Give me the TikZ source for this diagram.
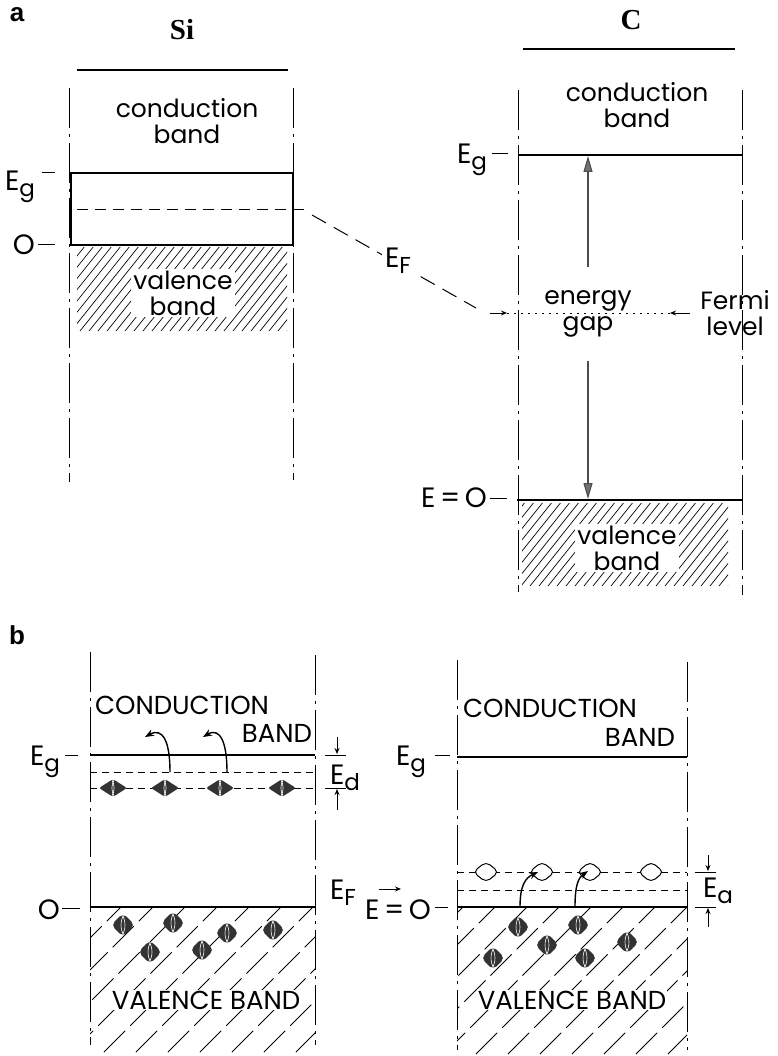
\documentclass[tikz,border=0pt]{standalone}
\usepackage{fontspec}
\setmainfont{Poppins}
\newfontfamily\serifb{Liberation Serif}
\newfontfamily\sansb{Liberation Sans}
\usetikzlibrary{shapes.geometric,arrows.meta}
\begin{document}
\begin{tikzpicture}[x=1pt,y=-1pt,
  lvl/.style={line width=1.2pt},
  ddline/.style={line width=1pt, dash pattern=on 40pt off 6pt on 3pt off 6pt},
  dlvl/.style={line width=0.9pt, dash pattern=on 7pt off 5pt},
  sidash/.style={line width=1pt, dash pattern=on 11pt off 7pt},
  efline/.style={line width=1pt, dash pattern=on 16pt off 9pt},
  hatchf/.style={line width=0.7pt},
  hatchb/.style={line width=0.8pt, dash pattern=on 30pt off 7pt},
  lc/.style={font=\fontsize{25}{28}\selectfont, align=center, inner sep=1pt},
  uc/.style={font=\fontsize{26}{28}\selectfont, inner sep=1pt},
  sym/.style={font=\fontsize{28}{28}\selectfont, inner sep=0pt},
  tick/.style={line width=1pt},
  garrow/.style={line width=1.1pt, draw=black!70, -{Triangle[length=16pt,width=9pt,fill=black!55]}},
  sarrow/.style={line width=0.9pt, -{Stealth[length=6pt,width=5pt]}},
  carrow/.style={line width=1.4pt, -{Stealth[length=9pt,width=7pt]}},
  streak/.style={path picture={
     \draw[white,line width=0.6pt] ([xshift=-1.5pt]path picture bounding box.north) to[bend left=30] ([xshift=-1.5pt]path picture bounding box.south);
     \draw[white,line width=0.6pt] ([xshift=1.5pt]path picture bounding box.north) to[bend right=30] ([xshift=1.5pt]path picture bounding box.south);}},
  donor/.style={diamond, fill=black!80, minimum width=28pt, minimum height=18pt, inner sep=0pt, rounded corners=2pt, streak},
  elec/.style={diamond, fill=black!80, minimum width=24pt, minimum height=24pt, inner sep=0pt, rounded corners=5pt, streak},
  hole/.style={diamond, draw, line width=1pt, fill=white, minimum width=26pt, minimum height=21pt, inner sep=0pt, rounded corners=5pt},
]
\useasboundingbox (0,0) rectangle (777,1056);
\newcommand{\sub}[1]{\raisebox{-6pt}{\fontsize{23}{23}\selectfont #1}}

% ---------- panel a ----------
\node[font=\sansb\bfseries\fontsize{26}{26}\selectfont] (la) at (17,15) {a};
\node[font=\serifb\bfseries\fontsize{29}{29}\selectfont] (si) at (182,30) {Si};
\node[font=\serifb\bfseries\fontsize{29}{29}\selectfont] (cc) at (631,20) {C};

% Si
\draw[lvl] (77,70) -- (288,70);
\draw[ddline] (69,88) -- (69,482);
\draw[ddline] (293,88) -- (293,480);
\begin{scope}
  \clip (77,248) rectangle (287,331);
  \foreach \x in {-10,-1,...,290} \draw[hatchf] (\x,331) -- ++(80,-100);
\end{scope}
\draw[lvl] (71,245) -- (71,173) -- (293,173) -- (293,245) -- cycle;
\draw[sidash] (77,210) -- (306,210);
\node[lc] (cbsi) at (187,121) {conduction\\[-2pt]band};
\node[lc, fill=white, inner sep=2pt] (vbsi) at (183,293) {valence\\[-2pt]band};
\node[sym] (egsi) at (20,187) {E\sub{g}};
\draw[tick] (42,173) -- (55,173);
\node[sym] (osi) at (24,245) {O};
\draw[tick] (38,245) -- (55,245);

% E_F connector
\coordinate (efa) at (312,215);
\coordinate (efb) at (476,308);
\draw[efline] (efa) -- (efb);
\node[sym, fill=white, inner sep=3pt] (ef) at (398,261) {E\sub{F}};

% C
\draw[lvl] (523,49) -- (735,49);
\draw[ddline] (518,90) -- (518,592);
\draw[ddline] (742,90) -- (742,595);
\draw[lvl] (518,155) -- (743,155);
\draw[lvl] (517,500) -- (742,500);
\begin{scope}
  \clip (522,503) rectangle (728,586);
  \foreach \x in {440,449,...,740} \draw[hatchf] (\x,586) -- ++(80,-100);
\end{scope}
\node[lc] (cbc) at (637,105) {conduction\\[-2pt]band};
\node[lc] (gap) at (588,314) {energy\\[-2pt]gap};
\node[lc] (fermi) at (735,313) {Fermi\\[-2pt]level};
\node[lc, fill=white, inner sep=2pt] (vbc) at (627,548) {valence\\[-2pt]band};
\draw[garrow] (gap.north) ++(0,-22) -- (588,156);
\draw[garrow] (gap.south) ++(0,22) -- (588,499);
\coordinate (fl1) at (490,313);
\coordinate (fl2) at (507,313);
\coordinate (fl3) at (670,313);
\coordinate (fl4) at (690,313);
\draw[sarrow] (fl1) -- (fl2);
\draw[line width=1pt, dash pattern=on 2pt off 5pt] (fl2) -- (fl3);
\draw[sarrow] (fl4) -- (fl3);
\node[sym] (egc) at (472,160) {E\sub{g}};
\draw[tick] (492,154) -- (508,154);
\node[sym] (e0c) at (454,498) {E\,=\,O};
\draw[tick] (490,498) -- (507,498);

% ---------- panel b ----------
\node[font=\sansb\bfseries\fontsize{26}{26}\selectfont] (lb) at (17,635) {b};

% left box (n-type)
\draw[ddline] (90,652) -- (90,1045);
\draw[ddline] (315,655) -- (315,1045);
\begin{scope}
  \clip (90,908) rectangle (315,1052);
  \foreach \x in {-120,-88,...,320} \draw[hatchb] (\x,1052) -- ++(160,-160);
\end{scope}
\draw[lvl] (90,755) -- (315,755);
\draw[dlvl] (90,772) -- (315,772);
\draw[dlvl] (90,788) -- (315,788);
\draw[lvl] (90,907) -- (315,907);
\node[uc] (cbn) at (182,705) {CONDUCTION};
\node[uc] (bn) at (277,733) {BAND};
\node[uc, fill=white] (vbn) at (206,1000) {VALENCE BAND};
\node[sym] (egn) at (45,762) {E\sub{g}};
\draw[tick] (65,755) -- (78,755);
\node[sym] (on) at (49,910) {O};
\draw[tick] (62,908) -- (80,908);
\foreach \x/\n in {113/1,165/2,220/3,282/4} \node[donor] (d\n) at (\x,788) {};
\draw[carrow] (170,772) .. controls (170,742) and (163,727) .. (145,737);
\draw[carrow] (227,772) .. controls (227,742) and (220,727) .. (203,737);
\foreach \x/\y/\n in {123/925/1,173/923/2,227/933/3,273/930/4,150/952/5,202/950/6}
  \node[elec] (vn\n) at (\x,\y) {};
% E_d
\draw[tick] (325,755) -- (346,755);
\draw[tick] (325,788) -- (346,788);
\draw[sarrow] (337,737) -- (337,754);
\draw[sarrow] (337,810) -- (337,789);
\node[sym] (ed) at (345,778) {E\sub{d}};

% middle labels
\node[sym] (efb2) at (343,893) {E\sub{F}};
\draw[sarrow] (379,889) -- (401,889);
\node[sym] (e0b) at (398,910) {E\,=\,O};
\draw[tick] (435,907) -- (448,907);

% right box (p-type)
\draw[ddline] (457,660) -- (457,1050);
\draw[ddline] (687,662) -- (687,1050);
\begin{scope}
  \clip (457,908) rectangle (687,1054);
  \foreach \x in {-100,-68,...,700} \draw[hatchb] (\x,1054) -- ++(160,-160);
\end{scope}
\draw[lvl] (457,757) -- (687,757);
\draw[dlvl] (457,872) -- (687,872);
\draw[dlvl] (457,890) -- (687,890);
\draw[lvl] (457,907) -- (687,907);
\node[uc] (cbp) at (550,708) {CONDUCTION};
\node[uc] (bp) at (640,737) {BAND};
\node[uc, fill=white] (vbp) at (572,1000) {VALENCE BAND};
\node[sym] (egp) at (411,762) {E\sub{g}};
\draw[tick] (435,755) -- (450,755);
\foreach \x/\n in {486/1,542/2,590/3,651/4} \node[hole] (h\n) at (\x,872) {};
\foreach \x/\y/\n in {518/927/1,578/925/2,547/945/3,627/942/4,493/958/5,585/958/6}
  \node[elec] (vp\n) at (\x,\y) {};
\draw[carrow] (520,907) .. controls (520,886) and (525,878) .. (538,872);
\draw[carrow] (575,907) .. controls (575,886) and (578,878) .. (588,871);
% E_a
\draw[tick] (695,872) -- (716,872);
\draw[tick] (695,907) -- (716,907);
\draw[sarrow] (708,855) -- (708,871);
\draw[sarrow] (708,927) -- (708,908);
\node[sym] (ea) at (718,891) {E\sub{a}};
\end{tikzpicture}
\end{document}
